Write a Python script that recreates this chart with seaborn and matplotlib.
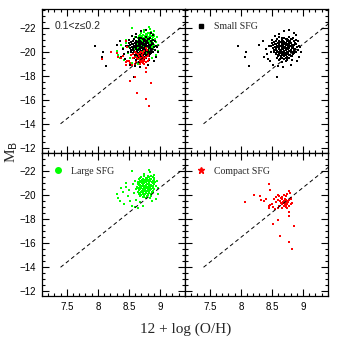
import matplotlib
matplotlib.use("Agg")
import matplotlib.pyplot as plt
import seaborn as sns
from matplotlib.lines import Line2D
from matplotlib.ticker import MultipleLocator

# Small SFG (black squares)
small_x = [7.95, 8.08, 8.07, 8.13, 8.58, 8.30, 8.36, 8.40, 8.42, 8.45, 8.38, 8.47, 8.50, 8.52, 8.55,
           8.60, 8.62, 8.70, 8.78, 8.85, 8.88, 8.92, 8.95, 8.97, 8.93, 8.90, 8.80, 8.68, 8.48, 8.44,
           8.62, 8.70, 8.78, 8.84,
           8.58, 8.66, 8.72, 8.76, 8.82, 8.88,
           8.54, 8.60, 8.64, 8.69, 8.73, 8.77, 8.81, 8.86,
           8.52, 8.57, 8.62, 8.66, 8.70, 8.74, 8.78, 8.83, 8.89,
           8.55, 8.60, 8.64, 8.67, 8.71, 8.75, 8.79, 8.84, 8.90,
           8.56, 8.61, 8.65, 8.68, 8.72, 8.76, 8.80, 8.85,
           8.53, 8.59, 8.63, 8.67, 8.70, 8.74, 8.78, 8.83, 8.88,
           8.57, 8.62, 8.66, 8.71, 8.75, 8.79, 8.84,
           8.60, 8.65, 8.70, 8.74, 8.80,
           8.63, 8.69, 8.76,
           8.66, 8.72,
           8.66, 8.74, 8.80,
           8.56, 8.62, 8.68, 8.75, 8.79, 8.85,
           8.50, 8.55, 8.62, 8.67, 8.71, 8.75, 8.80, 8.87,
           8.49, 8.58, 8.63, 8.68, 8.72, 8.76, 8.81, 8.86, 8.93,
           8.51, 8.57, 8.62, 8.66, 8.69, 8.73, 8.77, 8.82, 8.87,
           8.54, 8.58, 8.64, 8.69, 8.73, 8.77, 8.81, 8.86, 8.92,
           8.56, 8.61, 8.65, 8.69, 8.72, 8.76, 8.81, 8.86,
           8.59, 8.64, 8.68, 8.73, 8.77, 8.82,
           8.58, 8.67, 8.72, 8.78,
           8.61, 8.74, 8.82]
small_m = [-20.44, -19.94, -19.53, -18.83, -17.92, -20.6, -20.9, -20.2, -19.8, -20.5, -19.6, -19.2, -21.0, -18.9, -21.3,
           -18.8, -21.5, -21.7, -21.8, -21.6, -21.4, -20.9, -20.4, -20.0, -19.6, -19.2, -18.9, -18.7, -20.0, -19.4,
           -21.22, -21.14, -21.27, -21.18,
           -21.03, -20.96, -21.08, -20.98, -21.05, -20.94,
           -20.82, -20.76, -20.85, -20.79, -20.74, -20.83, -20.77, -20.86,
           -20.58, -20.63, -20.55, -20.66, -20.61, -20.57, -20.64, -20.59, -20.62,
           -20.43, -20.37, -20.45, -20.38, -20.42, -20.35, -20.46, -20.39, -20.41,
           -20.18, -20.24, -20.16, -20.22, -20.19, -20.25, -20.17, -20.21,
           -20.02, -19.96, -20.05, -19.98, -20.03, -19.95, -20.04, -19.99, -20.01,
           -19.83, -19.77, -19.85, -19.79, -19.82, -19.76, -19.84,
           -19.62, -19.57, -19.64, -19.58, -19.61,
           -19.42, -19.37, -19.44,
           -19.18, -19.23,
           -21.12, -21.07, -21.10,
           -20.91, -20.88, -20.93, -20.87, -20.92, -20.89,
           -20.71, -20.68, -20.73, -20.69, -20.72, -20.67, -20.70, -20.74,
           -20.52, -20.48, -20.51, -20.47, -20.53, -20.49, -20.50, -20.54, -20.46,
           -20.31, -20.28, -20.33, -20.27, -20.32, -20.29, -20.34, -20.30, -20.26,
           -20.12, -20.08, -20.11, -20.07, -20.13, -20.09, -20.10, -20.06, -20.14,
           -19.91, -19.88, -19.93, -19.87, -19.92, -19.89, -19.94, -19.90,
           -19.71, -19.68, -19.73, -19.69, -19.72, -19.67,
           -19.52, -19.48, -19.51, -19.47,
           -19.31, -19.28, -19.33]

# Large SFG (green)
large_x = [8.55, 8.84, 8.82, 8.75, 8.90, 8.31, 8.33, 8.42, 8.40, 8.45, 8.48, 8.50, 8.52, 8.55, 8.60,
           8.65, 8.72, 8.57, 8.60, 8.95, 8.97, 8.96, 8.93, 8.87, 8.62, 8.38, 8.46, 8.35, 8.58, 8.68,
           8.74, 8.80, 8.86,
           8.70, 8.77, 8.83, 8.88,
           8.68, 8.73, 8.79, 8.84, 8.90,
           8.66, 8.71, 8.76, 8.81, 8.86, 8.91,
           8.67, 8.72, 8.77, 8.80, 8.84, 8.89,
           8.65, 8.70, 8.74, 8.78, 8.82, 8.87, 8.92,
           8.66, 8.71, 8.75, 8.79, 8.83, 8.88,
           8.64, 8.68, 8.73, 8.77, 8.81, 8.85, 8.90,
           8.66, 8.70, 8.74, 8.78, 8.82, 8.87, 8.93,
           8.63, 8.68, 8.72, 8.76, 8.80, 8.84, 8.89,
           8.65, 8.70, 8.74, 8.78, 8.83, 8.88,
           8.62, 8.67, 8.72, 8.76, 8.81, 8.86, 8.91,
           8.66, 8.71, 8.75, 8.79, 8.84, 8.89,
           8.64, 8.69, 8.74, 8.78, 8.83, 8.87,
           8.68, 8.73, 8.77, 8.82, 8.88,
           8.66, 8.72, 8.76, 8.81, 8.86,
           8.70, 8.75, 8.80, 8.85,
           8.68, 8.74, 8.79,
           8.72, 8.78, 8.84]
large_m = [-22.0, -21.9, -22.1, -21.8, -21.7, -20.07, -19.74, -19.3, -20.3, -20.7, -19.9, -20.4, -19.5, -19.1, -19.0,
           -18.95, -19.1, -20.9, -21.2, -21.2, -20.6, -20.1, -19.7, -19.5, -19.6, -20.6, -21.0, -19.5, -20.2, -19.4,
           -21.63, -21.58, -21.61,
           -21.52, -21.47, -21.54, -21.49,
           -21.41, -21.38, -21.43, -21.37, -21.42,
           -21.32, -21.28, -21.31, -21.27, -21.33, -21.29,
           -21.21, -21.18, -21.23, -21.17, -21.22, -21.19,
           -21.12, -21.08, -21.11, -21.07, -21.13, -21.09, -21.10,
           -21.02, -20.98, -21.03, -20.97, -21.01, -20.99,
           -20.91, -20.88, -20.93, -20.87, -20.92, -20.89, -20.94,
           -20.82, -20.78, -20.81, -20.77, -20.83, -20.79, -20.80,
           -20.71, -20.68, -20.73, -20.67, -20.72, -20.69, -20.74,
           -20.62, -20.58, -20.61, -20.57, -20.63, -20.59,
           -20.51, -20.48, -20.53, -20.47, -20.52, -20.49, -20.54,
           -20.42, -20.38, -20.41, -20.37, -20.43, -20.39,
           -20.31, -20.28, -20.33, -20.27, -20.32, -20.29,
           -20.22, -20.18, -20.21, -20.17, -20.23,
           -20.11, -20.08, -20.13, -20.07, -20.12,
           -20.02, -19.98, -20.03, -19.97,
           -19.91, -19.88, -19.93,
           -19.82, -19.78, -19.81]

# Compact SFG (red)
compact_x = [8.46, 8.47, 8.21, 8.07, 8.31, 8.32, 8.37, 8.47, 8.46, 8.59, 8.51, 8.85, 8.63, 8.77, 8.83,
             8.54, 8.56, 8.59, 8.61, 8.64, 8.67, 8.69, 8.72, 8.75, 8.77, 8.79, 8.80, 8.69, 8.72, 8.75,
             8.67, 8.64, 8.61, 8.59, 8.55, 8.56, 8.60, 8.66, 8.71, 8.73, 8.76, 8.77, 8.78, 8.77, 8.75,
             8.72, 8.69, 8.67, 8.82, 8.80, 8.68, 8.71, 8.73, 8.63, 8.52, 8.50, 8.45, 8.40, 8.74, 8.70,
             8.78, 8.81]
compact_m = [-20.9, -20.4, -20.0, -19.4, -19.9, -19.6, -19.5, -19.2, -18.9, -17.9, -17.6, -17.4, -16.6, -16.1, -15.5,
             -19.71, -19.82, -19.99, -19.93, -19.80, -19.88, -19.99, -19.93, -20.07, -20.35, -20.15, -19.66, -19.52, -19.38, -19.25,
             -19.25, -19.38, -19.11, -18.97, -18.89, -19.44, -19.60, -19.66, -19.71, -19.60, -19.44, -19.11, -18.61, -18.28, -18.97,
             -19.05, -19.11, -18.97, -19.38, -19.25, -19.44, -19.27, -19.16, -19.52, -19.05, -19.25, -19.11, -19.66, -19.52, -19.35,
             -19.58, -19.80]

# dashed reference line
line_x = [7.4, 9.45]
line_m = [-14.0, -22.5]

xticks = [7.5, 8, 8.5, 9]
xticklabels = ["7.5", "8", "8.5", "9"]
yticks = [-22, -20, -18, -16, -14, -12]
yticklabels = ["\u221222", "\u221220", "\u221218", "\u221216", "\u221214", "\u221212"]

sns.set_style("ticks")
plt.rcParams['font.family'] = ['Liberation Sans', 'DejaVu Sans']
plt.rcParams['xtick.direction'] = 'in'
plt.rcParams['ytick.direction'] = 'in'

fig, axes = plt.subplots(2, 2, figsize=(3.38, 3.38), dpi=100)
fig.subplots_adjust(left=0.124, right=0.970, top=0.973, bottom=0.124, wspace=0, hspace=0)

serif = ['Liberation Serif', 'DejaVu Serif']

for i, ax in enumerate(axes.flat):
    sns.lineplot(x=line_x, y=line_m, ax=ax, color='black', linewidth=0.7,
                 linestyle=(0, (4, 3)), estimator=None, sort=False)
    ax.set_xlim(7.1, 9.4)
    ax.set_ylim(-11.6, -23.55)
    ax.set_xticks(xticks)
    ax.set_yticks(yticks)
    ax.xaxis.set_minor_locator(MultipleLocator(0.1))
    ax.yaxis.set_minor_locator(MultipleLocator(0.5))
    ax.tick_params(which='both', top=True, right=True, direction='in', width=0.8, colors='black')
    ax.tick_params(which='major', length=5)
    ax.tick_params(which='minor', length=2.5)
    ax.tick_params(labelsize=7, pad=4)
    if i in (2, 3):
        ax.set_xticklabels(xticklabels)
    else:
        ax.set_xticklabels([])
    if i in (0, 2):
        ax.set_yticklabels(yticklabels)
    else:
        ax.set_yticklabels([])
    for s in ax.spines.values():
        s.set_linewidth(0.9)
        s.set_color('black')
    ax.set_xlabel('')
    ax.set_ylabel('')

# top-left: all samples
ax = axes[0, 0]
sns.scatterplot(x=large_x, y=large_m, ax=ax, color='#00ff00', marker='s', s=1.8, linewidth=0)
sns.scatterplot(x=small_x, y=small_m, ax=ax, color='black', marker='s', s=1.2, linewidth=0)
sns.scatterplot(x=compact_x, y=compact_m, ax=ax, color='red', marker='s', s=2.5, linewidth=0)
ax.text(0.09, 0.88, "0.1<z\u22640.2", transform=ax.transAxes, fontsize=7.5, va='center')

# top-right: small
ax = axes[0, 1]
sns.scatterplot(x=small_x, y=small_m, ax=ax, color='black', marker='s', s=0.8, linewidth=0)
h = Line2D([], [], marker='s', color='black', linestyle='', markersize=3)
ax.legend([h], ["Small SFG"], loc='upper left', bbox_to_anchor=(0.0, 0.955), frameon=False,
          handletextpad=0.3, borderaxespad=0.3, prop={'family': serif, 'size': 7})

# bottom-left: large
ax = axes[1, 0]
sns.scatterplot(x=large_x, y=large_m, ax=ax, color='#00ff00', marker='s', s=1.2, linewidth=0)
h = Line2D([], [], marker='o', color='#00ff00', linestyle='', markersize=4)
ax.legend([h], ["Large SFG"], loc='upper left', bbox_to_anchor=(0.0, 0.95), frameon=False,
          handletextpad=0.3, borderaxespad=0.3, prop={'family': serif, 'size': 7})

# bottom-right: compact
ax = axes[1, 1]
sns.scatterplot(x=compact_x, y=compact_m, ax=ax, color='red', marker='s', s=1.8, linewidth=0)
h = Line2D([], [], marker='*', color='red', linestyle='', markersize=4.5)
ax.legend([h], ["Compact SFG"], loc='upper left', bbox_to_anchor=(0.0, 0.95), frameon=False,
          handletextpad=0.3, borderaxespad=0.3, prop={'family': serif, 'size': 7})

fig.text(0.55, 0.025, "12 + log (O/H)", ha='center', va='center', fontsize=11, family=serif)
fig.text(0.035, 0.55, "M$_\\mathrm{B}$", ha='center', va='center', fontsize=11, family=serif,
         rotation=90)

fig.savefig("out.png", dpi=100)
